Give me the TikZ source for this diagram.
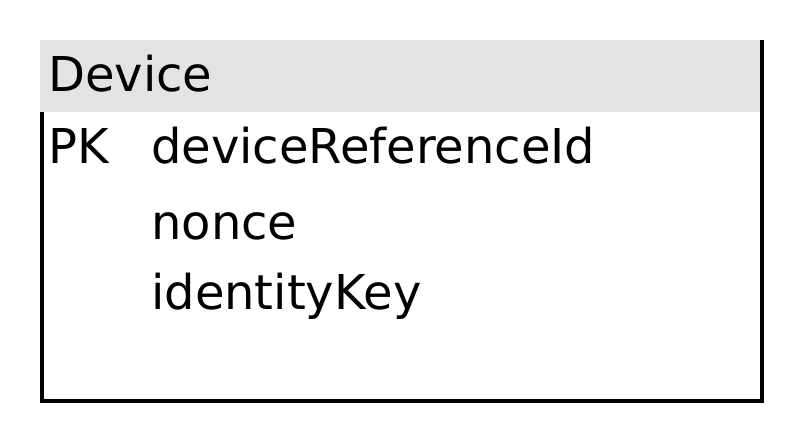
\documentclass[tikz,border=0pt]{standalone}
\usepackage{fontspec}
\setmainfont{DejaVu Sans}
\usepackage{tikz}
\usetikzlibrary{positioning}
\definecolor{colorHead}{HTML}{E3E3E3}

\tikzset{
    rowtext/.style={anchor=base west, inner sep=0pt, font=\fontsize{48}{56}\selectfont},
    edgeline/.style={line width=4pt, line join=miter}
}

\begin{document}
\begin{tikzpicture}[x=1pt, y=-1pt]
        \useasboundingbox (0,0) rectangle (804,444);
        \fill[colorHead] (40,40) rectangle (760,112);
        \draw[edgeline] (42,112) -- (42,401) -- (762,401) -- (762,40);
        \node[rowtext] (title) at (48,92) {Device};
        \node[rowtext] (pk) at (48,163) {PK};
        \node[rowtext] (refid) at (151,163) {deviceReferenceId};
        \node[rowtext] (nonce) at (151,239) {nonce};
        \node[rowtext] (idkey) at (151,309) {identityKey};
    \end{tikzpicture}
\end{document}
